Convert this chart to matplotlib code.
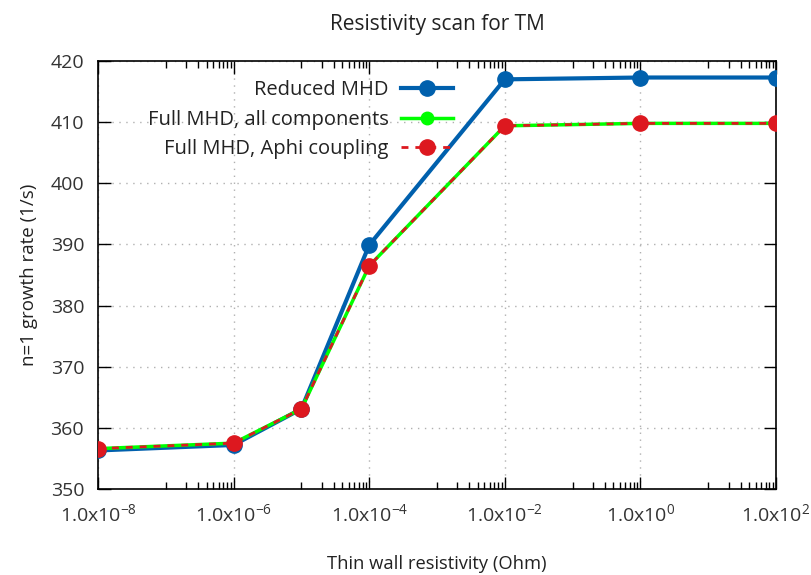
import numpy as np
import matplotlib.pyplot as plt
from matplotlib.ticker import FixedLocator

# resistivity of the thin wall (Ohm) and n=1 growth rates (1/s)
resistivity = [1e-8, 1e-6, 1e-5, 1e-4, 1e-2, 1e0, 1e2]
rate_reduced = [356.3, 357.2, 363.1, 389.9, 417.0, 417.3, 417.3]
rate_full_all = [356.6, 357.5, 363.1, 386.5, 409.4, 409.8, 409.8]
rate_full_aphi = [356.6, 357.5, 363.1, 386.5, 409.4, 409.8, 409.8]

major_exp = [-8, -6, -4, -2, 0, 2]
tick_labels = ["1.0x10$^{%d}$" % e for e in major_exp]

plt.rcParams['font.family'] = ['Open Sans', 'DejaVu Sans']
plt.rcParams['mathtext.fontset'] = 'custom'
plt.rcParams['mathtext.rm'] = 'Open Sans'
plt.rcParams['mathtext.it'] = 'Open Sans'
plt.rcParams['mathtext.default'] = 'rm'

fig = plt.figure(figsize=(8.12, 5.75), dpi=100)
ax = fig.add_axes([0.1207, 0.1496, 0.8350, 0.7443])

ax.plot(resistivity, rate_reduced, color='#0060ad', lw=3, marker='o',
        ms=11, label="Reduced MHD", zorder=3)
ax.plot(resistivity, rate_full_all, color='#00ff00', lw=2.5, marker='o',
        ms=9, label="Full MHD, all components", zorder=4)
ax.plot(resistivity, rate_full_aphi, color='#dd181f', lw=2, ls=(0, (2.5, 2.5)),
        marker='o', ms=11, label="Full MHD, Aphi coupling", zorder=5)

ax.set_xscale('log')
ax.set_xlim(1e-8, 1e2)
ax.set_ylim(350, 420)
ax.xaxis.set_major_locator(FixedLocator([10.0 ** e for e in major_exp]))
ax.set_xticklabels(tick_labels)
minor = [10.0 ** (e + 1) * k for e in major_exp[:-1] for k in range(1, 10)]
ax.xaxis.set_minor_locator(FixedLocator(minor))
ax.xaxis.set_minor_formatter(plt.NullFormatter())
ax.set_yticks(np.arange(350, 421, 10))

ax.tick_params(which='both', direction='in', top=True, right=True,
               labelsize=14, colors='black', width=1)
ax.tick_params(which='major', length=9, pad=10)
ax.tick_params(which='minor', length=5)
for lbl in ax.get_xticklabels() + ax.get_yticklabels():
    lbl.set_color('#333333')
for sp in ax.spines.values():
    sp.set_linewidth(1.2)

ax.grid(True, which='major', ls=(0, (1, 4)), color='#b0b0b0', lw=1)

ax.set_title("Resistivity scan for TM", fontsize=15, color='#222222', pad=22)
ax.set_xlabel("Thin wall resistivity (Ohm)", fontsize=13.2, color='#222222',
              labelpad=22)
ax.set_ylabel("n=1 growth rate (1/s)", fontsize=13.5, color='#222222',
              labelpad=9)

ax.legend(loc='upper left', bbox_to_anchor=(0.045, 1.0), frameon=False,
          markerfirst=False, fontsize=14.5, handlelength=2.6,
          labelspacing=0.47, handletextpad=0.6, borderaxespad=0.55,
          labelcolor='#222222')

fig.savefig("out.png", dpi=100)
